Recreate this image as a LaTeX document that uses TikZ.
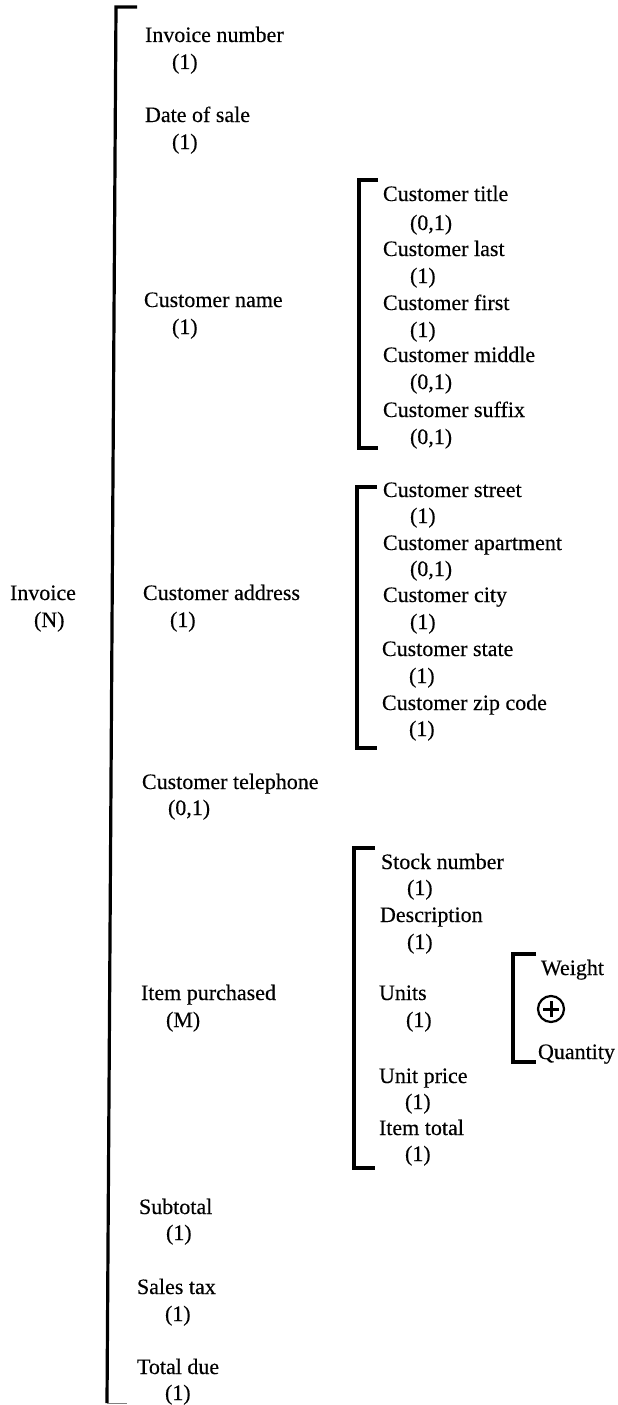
\documentclass[tikz,border=0pt]{standalone}
\usepackage{fontspec}
\setmainfont{Liberation Serif}
\newfontfamily\lblfont{Liberation Serif}[FakeBold=0.3]
\begin{document}
\begin{tikzpicture}[x=1pt,y=-1pt,
  lbl/.style={anchor=base west,inner sep=0pt,outer sep=0pt,yshift=-7pt,font=\lblfont\fontsize{22}{26}\selectfont},
  brk/.style={line width=3.2pt,line cap=butt,line join=miter},
  thintick/.style={line width=1pt,gray}]
\useasboundingbox (0,0) rectangle (618,1405);
% root
\node[lbl] (inv) at (10,593) {Invoice};
\node[lbl] (invN) at (34,620) {(N)};
% main bracket
\coordinate (mt) at (116,7);
\coordinate (mb) at (107,1403);
\coordinate (mtt) at (137,7);
\coordinate (mbt) at (127,1403);
\draw[brk] (mtt) -- (mt) -- (mb);
\draw[thintick] (mb) -- (mbt);
% first level
\node[lbl] (a1) at (145,35) {Invoice number};
\node[lbl] (a1c) at (172,62) {(1)};
\node[lbl] (a2) at (145,115) {Date of sale};
\node[lbl] (a2c) at (172,142) {(1)};
\node[lbl] (a3) at (144,300) {Customer name};
\node[lbl] (a3c) at (172,327) {(1)};
\node[lbl] (a4) at (143,593) {Customer address};
\node[lbl] (a4c) at (170,620) {(1)};
\node[lbl] (a5) at (142,782) {Customer telephone};
\node[lbl] (a5c) at (168,808) {(0,1)};
\node[lbl] (a6) at (141,993) {Item purchased};
\node[lbl] (a6c) at (166,1020) {(M)};
\node[lbl] (a7) at (139,1207) {Subtotal};
\node[lbl] (a7c) at (166,1233) {(1)};
\node[lbl] (a8) at (137,1287) {Sales tax};
\node[lbl] (a8c) at (165,1314) {(1)};
\node[lbl] (a9) at (137,1367) {Total due};
\node[lbl] (a9c) at (165,1393) {(1)};
% customer name bracket
\draw[brk] (378,180) -- (359,180) -- (359,448) -- (378,448);
\node[lbl] (n1) at (383,194) {Customer title};
\node[lbl] (n1c) at (410,223) {(0,1)};
\node[lbl] (n2) at (383,249) {Customer last};
\node[lbl] (n2c) at (410,276) {(1)};
\node[lbl] (n3) at (383,303) {Customer first};
\node[lbl] (n3c) at (410,330) {(1)};
\node[lbl] (n4) at (383,355) {Customer middle};
\node[lbl] (n4c) at (410,382) {(0,1)};
\node[lbl] (n5) at (383,410) {Customer suffix};
\node[lbl] (n5c) at (410,437) {(0,1)};
% customer address bracket
\draw[brk] (377,487) -- (357,487) -- (357,748) -- (377,748);
\node[lbl] (d1) at (383,490) {Customer street};
\node[lbl] (d1c) at (410,516) {(1)};
\node[lbl] (d2) at (383,543) {Customer apartment};
\node[lbl] (d2c) at (410,569) {(0,1)};
\node[lbl] (d3) at (383,595) {Customer city};
\node[lbl] (d3c) at (410,622) {(1)};
\node[lbl] (d4) at (382,649) {Customer state};
\node[lbl] (d4c) at (409,676) {(1)};
\node[lbl] (d5) at (382,703) {Customer zip code};
\node[lbl] (d5c) at (409,729) {(1)};
% item purchased bracket
\draw[brk] (375,848) -- (354,848) -- (354,1168) -- (375,1168);
\node[lbl] (i1) at (381,862) {Stock number};
\node[lbl] (i1c) at (407,888) {(1)};
\node[lbl] (i2) at (380,915) {Description};
\node[lbl] (i2c) at (407,942) {(1)};
\node[lbl] (i3) at (379,993) {Units};
\node[lbl] (i3c) at (406,1020) {(1)};
\node[lbl] (i4) at (379,1076) {Unit price};
\node[lbl] (i4c) at (405,1102) {(1)};
\node[lbl] (i5) at (379,1128) {Item total};
\node[lbl] (i5c) at (405,1154) {(1)};
% units bracket
\draw[brk] (536,954) -- (513,954) -- (513,1062) -- (536,1062);
\node[lbl] (w) at (541,968) {Weight};
\node[lbl] (q) at (538,1052) {Quantity};
\node[circle,draw,line width=2.2pt,minimum size=26pt,inner sep=0pt] (xor) at (551,1009) {};
\draw[line width=3pt] ([xshift=-8pt]xor.center) -- ([xshift=8pt]xor.center);
\draw[line width=3pt] ([yshift=-8pt]xor.center) -- ([yshift=8pt]xor.center);
\end{tikzpicture}
\end{document}
